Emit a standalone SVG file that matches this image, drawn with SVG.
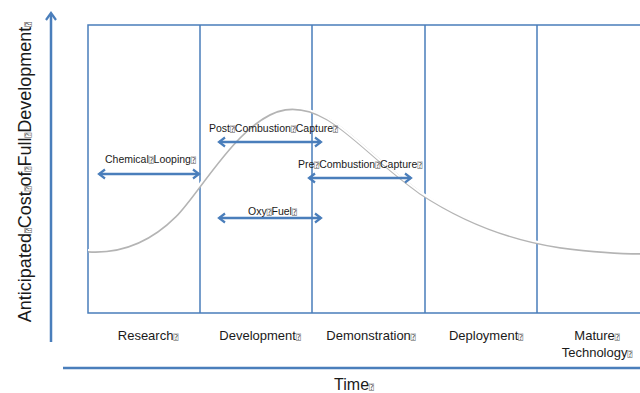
<svg xmlns="http://www.w3.org/2000/svg" width="640" height="393" viewBox="0 0 640 393">
  <style>
    .grid { fill: none; stroke: #4a7ebb; stroke-width: 1.5; }
    .axis { fill: none; stroke: #4a7ebb; stroke-width: 2.5; }
    .conn { fill: none; stroke: #4a7ebb; stroke-width: 2.5; marker-start: url(#head); marker-end: url(#head); }
    .lbl { font-family: "Liberation Sans", Arial, sans-serif; fill: #1a1a1a; }
    .small { font-size: 10.5px; }
    .stage { font-size: 13px; text-anchor: middle; }
    .q { font-family: "DejaVu Sans Mono", "DejaVu Sans", monospace; font-size: 8px; fill: #555; }
  </style>
  <defs>
    <marker id="head" viewBox="-8 -6 10 12" markerWidth="10" markerHeight="12" refX="0" refY="0" orient="auto-start-reverse" markerUnits="userSpaceOnUse">
      <path d="M-6,-4.5 L0,0 L-6,4.5" fill="none" stroke="#4a7ebb" stroke-width="2.2" stroke-linejoin="miter"/>
    </marker>
    <filter id="soft" x="-5%" y="-5%" width="110%" height="110%">
      <feGaussianBlur stdDeviation="0.6"/>
    </filter>
  </defs>

  <rect x="0" y="0" width="640" height="393" fill="#ffffff"/>

  <!-- stage grid -->
  <g id="grid">
    <path class="grid" d="M640,25 H88 V313 H640"/>
    <path class="grid" d="M200,25 V313 M312,25 V313 M425,25 V313 M537,25 V313"/>
  </g>

  <!-- cost curve: white line with a grey shadow -->
  <g id="curve">
    <path d="M88,250 C120,252 150,240 175,215 C200,190 240,115 285,108 C330,102 360,150 420,192 C470,225 520,240 560,246 C600,251 630,252 640,252" fill="none" stroke="#b4b4b4" stroke-width="3" transform="translate(0.5,1.2)" filter="url(#soft)"/>
    <path d="M88,250 C120,252 150,240 175,215 C200,190 240,115 285,108 C330,102 360,150 420,192 C470,225 520,240 560,246 C600,251 630,252 640,252" fill="none" stroke="#ffffff" stroke-width="2.2"/>
  </g>

  <!-- axes -->
  <g id="axes">
    <path class="axis" d="M51,342 V14"/>
    <path d="M46,20 L51,13 L56,20" fill="none" stroke="#4a7ebb" stroke-width="2.2"/>
    <path class="axis" d="M63,368 H640"/>
  </g>

  <!-- technology range connectors -->
  <g id="connectors">
    <path class="conn" d="M99,174 H199"/>
    <path class="conn" d="M219,142 H321"/>
    <path class="conn" d="M309,178 H411"/>
    <path class="conn" d="M219,218 H321"/>
  </g>

  <g id="chemical-looping">
    <text class="lbl small" x="105" y="163">Chemical<tspan class="q">⍰</tspan>Looping<tspan class="q">⍰</tspan></text>
  </g>
  <g id="post-combustion">
    <text class="lbl small" x="209" y="132">Post<tspan class="q">⍰</tspan>Combustion<tspan class="q">⍰</tspan>Capture<tspan class="q">⍰</tspan></text>
  </g>
  <g id="pre-combustion">
    <text class="lbl small" x="298" y="168">Pre<tspan class="q">⍰</tspan>Combustion<tspan class="q">⍰</tspan>Capture<tspan class="q">⍰</tspan></text>
  </g>
  <g id="oxy-fuel">
    <text class="lbl small" x="248" y="215">Oxy<tspan class="q">⍰</tspan>Fuel<tspan class="q">⍰</tspan></text>
  </g>

  <!-- stage labels -->
  <g id="stage-research"><text class="lbl stage" x="148" y="340">Research<tspan class="q">⍰</tspan></text></g>
  <g id="stage-development"><text class="lbl stage" x="260" y="340">Development<tspan class="q">⍰</tspan></text></g>
  <g id="stage-demonstration"><text class="lbl stage" x="371" y="340">Demonstration<tspan class="q">⍰</tspan></text></g>
  <g id="stage-deployment"><text class="lbl stage" x="486" y="340">Deployment<tspan class="q">⍰</tspan></text></g>
  <g id="stage-mature">
    <text class="lbl stage" x="597" y="340">Mature<tspan class="q">⍰</tspan></text>
    <text class="lbl stage" x="597" y="357">Technology<tspan class="q">⍰</tspan></text>
  </g>

  <!-- axis titles -->
  <g id="x-title"><text class="lbl" x="354" y="390" font-size="16" text-anchor="middle">Time<tspan class="q" font-size="10">⍰</tspan></text></g>
  <g id="y-title">
    <text class="lbl" transform="translate(31,172) rotate(-90)" font-size="18" text-anchor="middle">Anticipated<tspan class="q" font-size="10">⍰</tspan>Cost<tspan class="q" font-size="10">⍰</tspan>of<tspan class="q" font-size="10">⍰</tspan>Full<tspan class="q" font-size="10">⍰</tspan>Development<tspan class="q" font-size="10">⍰</tspan></text>
  </g>
</svg>
